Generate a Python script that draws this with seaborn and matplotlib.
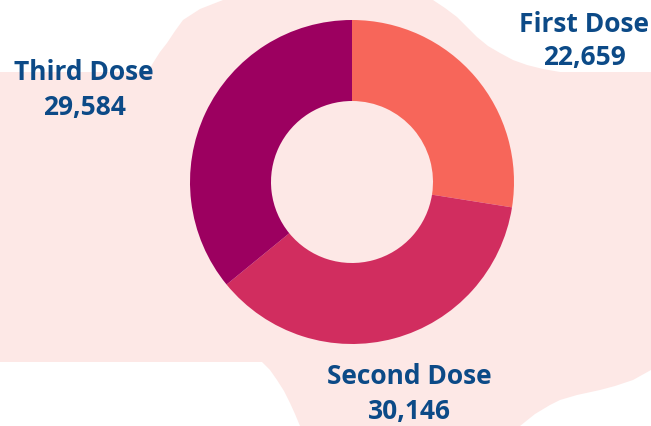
import numpy as np
import matplotlib
matplotlib.use("Agg")
import matplotlib.pyplot as plt
import seaborn as sns
from matplotlib.patches import Polygon

# --- data
doses = ["First Dose", "Second Dose", "Third Dose"]
counts = [22659, 30146, 29584]
colors = ["#F7665A", "#D12D5F", "#9C0060"]

W, H = 651, 426

# label anchors (pixel coords, y down)
label_pos = {
    "First Dose": (584, 24),
    "Second Dose": (409, 377),
    "Third Dose": (84, 73),
}

# decorative background blob outline (pixel coords, y down)
blob = [
    (-5, 72), (148, 72), (153, 63), (160, 52), (167, 43), (175, 31),
    (183, 20), (200, 9), (223, 0), (225, -5),
    (430, -5), (433, 0), (445, 8), (457, 17), (467, 27), (477, 37),
    (488, 46), (500, 53), (513, 60), (527, 65), (543, 69), (560, 72),
    (656, 72),
    (656, 368), (651, 370), (633, 380), (615, 386), (600, 390), (577, 395),
    (560, 400), (550, 405), (535, 414), (520, 426), (515, 431),
    (302, 431), (300, 426), (295, 414), (290, 403), (284, 391),
    (277, 380), (270, 370), (262, 362), (-5, 362),
]

sns.set_theme(style="white")
plt.rcParams["font.family"] = ["Open Sans", "DejaVu Sans"]

fig = plt.figure(figsize=(W / 100, H / 100), dpi=100)
ax = fig.add_axes([0, 0, 1, 1])

# pink backdrop
ax.add_patch(Polygon([(x, H - y) for x, y in blob], closed=True,
                     facecolor="#FDE8E6", edgecolor="none", zorder=0))

pal = sns.color_palette(colors)
ax.pie(counts, colors=pal, startangle=90, counterclock=False,
       center=(352, H - 182), radius=162, frame=True,
       wedgeprops=dict(width=81, edgecolor="none", linewidth=0, zorder=2))

txt_color = "#0C4A87"
for name, val in zip(doses, counts):
    x, y = label_pos[name]
    ax.text(x, H - y, name, ha="center", va="center", fontsize=19,
            fontweight="bold", color=txt_color)
    ax.text(x, H - y - 34, f"{val:,}", ha="center", va="center", fontsize=19,
            fontweight="bold", color=txt_color)

ax.set_xlim(0, W)
ax.set_ylim(0, H)
ax.set_aspect("equal")
ax.axis("off")

fig.savefig("out.png", dpi=100, facecolor="white")
